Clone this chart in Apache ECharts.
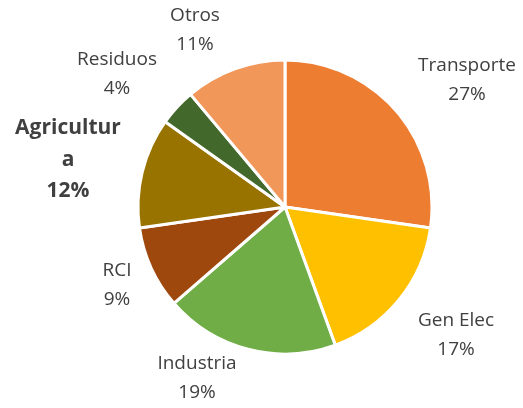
<!DOCTYPE html>
<html>
<head>
<meta charset="utf-8">
<script src="https://cdn.jsdelivr.net/npm/echarts@6/dist/echarts.min.js"></script>
<style>
  html, body { margin: 0; padding: 0; background: #ffffff; }
  #chart { width: 523px; height: 408px; }
</style>
</head>
<body>
<div id="chart"></div>
<script>
const categories = ['Transporte', 'Gen Elec', 'Industria', 'RCI', 'Agricultura', 'Residuos', 'Otros']
const values = [27, 17, 19, 9, 12, 4, 11]
const colors = ['#ED7D31', '#FFC000', '#70AD47', '#9E480E', '#997300', '#43682B', '#F1975A']
// label centres, as placed in the original
const labelPos = [[467, 80], [456, 335], [197, 378], [117, 285], [68, 160], [117, 74], [195, 30]]

const chart = echarts.init(document.getElementById('chart'))
chart.setOption({
    backgroundColor: '#ffffff',
    animation: false,
    series: [{
        type: 'pie',
        center: [285, 207],
        radius: 147,
        startAngle: 90,
        clockwise: true,
        percentPrecision: 2,
        data: categories.map((name, i) => ({
            name: name,
            value: values[i],
            itemStyle: { color: colors[i] }
        })),
        itemStyle: { borderColor: '#ffffff', borderWidth: 3 },
        label: {
            show: true,
            position: 'outside',
            overflow: 'none',
            fontFamily: 'Open Sans',
            fontSize: 19,
            lineHeight: 29,
            color: '#404040',
            formatter: (p) => {
                const pct = Math.round(p.percent)
                if (p.name === 'Agricultura') return '{b|Agricultur}\n{b|a}\n{b|' + pct + '%}'
                return p.name + '\n' + pct + '%'
            },
            rich: {
                b: { fontFamily: 'Open Sans', fontSize: 21, fontWeight: 'bold', lineHeight: 31.5, color: '#404040' }
            }
        },
        labelLine: { show: false },
        labelLayout: (params) => {
            const pos = labelPos[params.dataIndex]
            return { x: pos[0], y: pos[1], align: 'center', verticalAlign: 'middle' }
        }
    }]
})
</script>
</body>
</html>
